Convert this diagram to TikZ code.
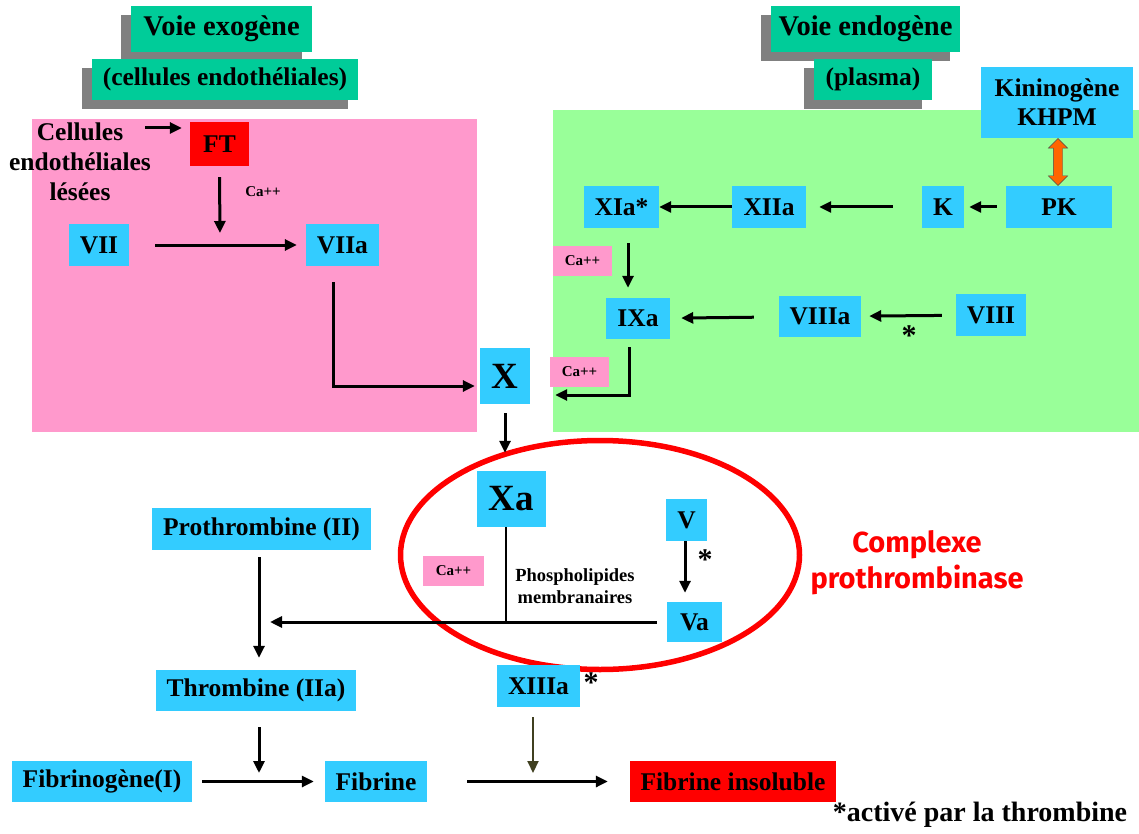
\documentclass[tikz,border=0pt]{standalone}
\usepackage{fontspec}
\setmainfont{Liberation Serif}
\newfontfamily\cpxfont{Fira Sans}
\usepackage{tikz}
\usetikzlibrary{arrows.meta,shadows,shapes.arrows,calc}
\definecolor{cyanbox}{RGB}{51,204,255}
\definecolor{pinkbg}{RGB}{255,153,204}
\definecolor{greenbg}{RGB}{153,255,153}
\definecolor{hdrgreen}{RGB}{0,204,153}
\definecolor{shadowgray}{RGB}{128,128,128}
\definecolor{olivearr}{RGB}{64,64,32}
\definecolor{dblorange}{RGB}{255,102,0}

\begin{document}
\begin{tikzpicture}[x=1pt,y=-1pt,
  font=\bfseries\fontsize{25.5}{29}\selectfont,
  box/.style={fill=cyanbox,inner sep=0pt,minimum height=42pt},
  redbox/.style={fill=red,inner sep=0pt,minimum height=42pt},
  cabox/.style={fill=pinkbg,inner sep=0pt,minimum width=59pt,minimum height=30pt,font=\bfseries\fontsize{15}{15}\selectfont},
  hdr/.style={fill=hdrgreen,inner sep=0pt,general shadow={fill=shadowgray,shadow xshift=-10pt,shadow yshift=-9pt}},
  bigf/.style={font=\bfseries\fontsize{37}{37}\selectfont},
  star/.style={font=\bfseries\fontsize{30}{30}\selectfont},
  dblarr/.style={double arrow,rotate=90,draw=black!70,fill=dblorange,inner sep=4.5pt,minimum height=47pt,double arrow head extend=5pt},
  arr/.style={-{Triangle[length=12pt,width=11pt]},line width=3pt}]
\useasboundingbox (0,0) rectangle (1139,834);
% backgrounds
\fill[pinkbg] (32,119) rectangle (477,432);
\fill[greenbg] (553,110) rectangle (1139,432);
% headers
\node[hdr,minimum width=181pt,minimum height=46pt,font=\bfseries\fontsize{28.5}{28.5}\selectfont] (exo) at (221.5,29) {Voie exogène};
\node[hdr,minimum width=266pt,minimum height=41pt] (cell) at (225,79.5) {(cellules endothéliales)};
\node[hdr,minimum width=189pt,minimum height=46pt,font=\bfseries\fontsize{28.5}{28.5}\selectfont] (endo) at (865.5,29) {Voie endogène};
\node[hdr,minimum width=118pt,minimum height=41pt] (plas) at (873,79.5) {(plasma)};
% voie exogene
\node[align=center,font=\bfseries\fontsize{25.5}{30}\selectfont] (lesion) at (80,162) {Cellules\\endothéliales\\lésées};
\node[redbox,minimum width=59pt,minimum height=44pt] (ft) at (219.5,144) {FT};
\node[font=\bfseries\fontsize{15}{15}\selectfont] (ca0) at (263,192) {Ca++};
\node[box,minimum width=60pt] (vii) at (99,245) {VII};
\node[box,minimum width=73pt] (viia) at (342.5,245) {VIIa};
% voie endogene
\node[box,minimum width=152pt,minimum height=71pt,align=center] (kin) at (1057,102.5) {Kininogène\\KHPM};
\node[box,minimum width=75pt] (xia) at (621.5,207) {XIa*};
\node[box,minimum width=74pt] (xiia) at (769,207) {XIIa};
\node[box,minimum width=42pt] (k) at (943,207) {K};
\node[box,minimum width=106pt] (pk) at (1059,207) {PK};
\node[cabox] (ca1) at (582.5,260.5) {Ca++};
\node[box,minimum width=64pt,minimum height=41pt] (ixa) at (638,318.5) {IXa};
\node[box,minimum width=82pt,minimum height=41pt] (viiia) at (820,316.5) {VIIIa};
\node[box,minimum width=70pt] (viii) at (991,315) {VIII};
\node[star] (s1) at (909,336) {*};
\node[box,bigf,minimum width=50pt,minimum height=56pt] (x) at (505,376) {X};
\node[cabox] (ca2) at (579.5,372) {Ca++};
% complexe prothrombinase
\draw[red,line width=5.5pt] (600,555) ellipse [x radius=199.5,y radius=114.5];
\node[box,bigf,minimum width=69pt,minimum height=56pt] (xa) at (511.5,499) {Xa};
\node[cabox,minimum width=61pt] (ca3) at (453.5,571) {Ca++};
\node[align=center,font=\bfseries\fontsize{18.5}{22}\selectfont] (phos) at (575,586) {Phospholipides\\membranaires};
\node[box,minimum width=41pt] (v) at (686.5,520) {V};
\node[box,minimum width=55pt,minimum height=40pt] (va) at (694.5,622) {Va};
\node[star] (s2) at (705,560) {*};
\node[align=center,text=red,font=\cpxfont\bfseries\fontsize{29}{36}\selectfont] (cpx) at (917,563) {Complexe\\prothrombinase};
% voie commune
\node[box,minimum width=219pt] (proth) at (261.5,529) {Prothrombine (II)};
\node[box,minimum width=200pt,minimum height=41pt] (thr) at (256,690.5) {Thrombine (IIa)};
\node[box,minimum width=83pt] (xiiia) at (538.5,686) {XIIIa};
\node[star] (s3) at (591,683) {*};
\node[box,minimum width=180pt,minimum height=41pt] (fbg) at (102,781.5) {Fibrinogène(I)};
\node[box,minimum width=102pt,minimum height=41pt] (fib) at (376,781.5) {Fibrine};
\node[redbox,minimum width=206pt,minimum height=41pt] (fins) at (733,781.5) {Fibrine insoluble};
\node[font=\bfseries\fontsize{28}{28}\selectfont] (note) at (980,815) {*activé par la thrombine};
% junctions
\coordinate (c0) at (145,128);
\coordinate (m1) at (220,244);
\coordinate (jx) at (506,622);
\coordinate (jp) at (259,622);
\coordinate (jf) at (259,783);
\coordinate (jxiii) at (533,783);
% exogene flow
\draw[arr,shorten >=8pt] (c0) -- (c0 -| ft.west);
\draw[arr,shorten <=11pt,shorten >=11pt] (ft.south) -- (m1);
\draw[arr,shorten <=26pt,shorten >=9pt] (vii) -- (viia);
\draw[arr] ([xshift=-9pt,yshift=-16pt]viia.south) |- ([xshift=-5pt,yshift=-10pt]x.west);
% endogene flow
\node[dblarr] (kp) at ($(kin.south)!0.5!(pk.north)$) {};
\draw[arr,shorten <=9pt,shorten >=5pt] (pk) -- (k);
\draw[arr,shorten <=29pt,shorten >=13pt] (k) -- (xiia);
\draw[arr] (xiia) -- (xia);
\draw[arr,shorten <=15pt,shorten >=10pt] ([xshift=6.5pt]xia.south) -- ([xshift=6.5pt]xia.south |- ixa.north);
\draw[arr,shorten <=14pt,shorten >=8pt] (viii) -- (viiia);
\draw[arr,shorten <=25pt,shorten >=11pt] (viiia) -- (ixa);
\draw[arr,shorten <=8pt,shorten >=25pt] ([xshift=-9pt]ixa.south) |- ([yshift=-19pt]x.east);
% complexe
\draw[arr,shorten <=9pt,shorten >=18pt] (x) -- (x |- xa.north);
\draw[line width=2.5pt] (jx |- xa.south) -- (jx);
\draw[arr,shorten >=9pt] ([xshift=-1.5pt]v.south) -- ([xshift=-1.5pt]v.south |- va.north);
\draw[arr,shorten <=10pt,shorten >=11pt] (va.west) -- (jp);
% voie commune
\draw[arr,shorten <=7pt,shorten >=12pt] ([xshift=-2.5pt]proth.south) -- ([xshift=-2.5pt]proth.south |- thr.north);
\draw[arr,shorten <=16pt,shorten >=10pt] (jf |- thr.south) -- (jf);
\draw[arr,shorten <=10pt,shorten >=11pt] (fbg) -- (fib);
\draw[arr,shorten <=40pt,shorten >=22pt] (fib) -- (fins);
\draw[arr,olivearr,line width=2pt,shorten <=10pt,shorten >=10pt] (jxiii |- xiiia.south) -- (jxiii);
\end{tikzpicture}
\end{document}
